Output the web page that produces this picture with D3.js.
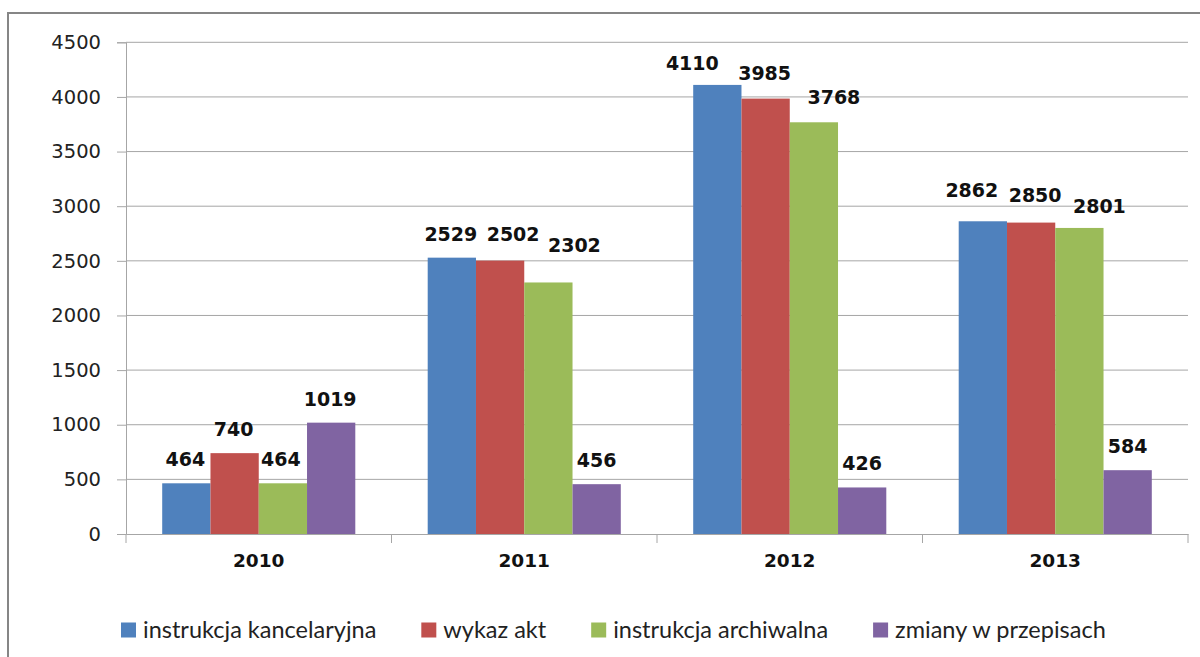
<!DOCTYPE html>
<html>
<head>
<meta charset="utf-8">
<script src="https://cdn.jsdelivr.net/npm/d3@7"></script>
<style>
  body { margin: 0; background: #fff; }
  svg { display: block; }
</style>
</head>
<body>
<div id="chart"></div>
<script>
// data
const years = ["2010", "2011", "2012", "2013"];
const seriesNames = ["instrukcja kancelaryjna", "wykaz akt", "instrukcja archiwalna", "zmiany w przepisach"];
const kancelaryjna = [464, 2529, 4110, 2862];
const wykazAkt = [740, 2502, 3985, 2850];
const archiwalna = [464, 2302, 3768, 2801];
const zmiany = [1019, 456, 426, 584];
const yTicks = [0, 500, 1000, 1500, 2000, 2500, 3000, 3500, 4000, 4500];

const colors = ["#4F81BD", "#C0504D", "#9BBB59", "#8064A2"];

const W = 1200, H = 657;
const margin = {top: 42.3, left: 126, right: 12, bottom: 123};
const width = W - margin.left - margin.right;   // 1062
const height = H - margin.top - margin.bottom;  // ~492

const svg = d3.select("#chart").append("svg")
    .attr("width", W)
    .attr("height", H);

// outer frame
svg.append("rect")
    .attr("x", 8).attr("y", 13)
    .attr("width", 1200).attr("height", 700)
    .attr("fill", "none")
    .attr("stroke", "#868686")
    .attr("stroke-width", 2);

const chart = svg.append("g")
    .attr("transform", "translate(" + margin.left + "," + margin.top + ")");

const allSeries = [kancelaryjna, wykazAkt, archiwalna, zmiany];
const data = years.map(function(y, i) {
  return {year: y, values: allSeries.map(function(s, k) { return {key: seriesNames[k], k: k, value: s[i]}; })};
});

const x0 = d3.scaleBand().domain(years).range([0, width]);
const x1 = d3.scaleBand().domain(seriesNames).range([0, x0.bandwidth()]).paddingOuter(0.75);
const y = d3.scaleLinear().domain([0, 4500]).range([height, 0]);

// grid
chart.append("g")
  .selectAll("line")
  .data(yTicks.slice(1))
  .enter().append("line")
    .attr("x1", 0).attr("x2", width)
    .attr("y1", function(d) { return y(d); })
    .attr("y2", function(d) { return y(d); })
    .attr("stroke", "#a6a6a6")
    .attr("stroke-width", 1);

// bars
const groups = chart.append("g")
  .selectAll("g")
  .data(data)
  .enter().append("g")
    .attr("transform", function(d) { return "translate(" + x0(d.year) + ",0)"; });

groups.selectAll("rect")
  .data(function(d) { return d.values; })
  .enter().append("rect")
    .attr("x", function(d) { return x1(d.key); })
    .attr("y", function(d) { return y(d.value); })
    .attr("width", x1.bandwidth())
    .attr("height", function(d) { return height - y(d.value); })
    .attr("fill", function(d) { return colors[d.k]; });

// value labels, some were dragged a bit in the original
const labelShift = [
  [[-1, 0], [-1, 0], [-2, 0], [-1, 1]],
  [[-1, 0], [13, -2], [26, -13], [0, 0]],
  [[-25, 2], [-1, -1], [20, -1], [0, 0]],
  [[-11, -7], [4, -3], [20, 2], [0, 0]]
];

groups.each(function(g, gi) {
  d3.select(this).selectAll("text")
    .data(g.values)
    .enter().append("text")
      .attr("x", function(d) { return x1(d.key) + x1.bandwidth() / 2 + labelShift[gi][d.k][0]; })
      .attr("y", function(d) { return y(d.value) - 24 + labelShift[gi][d.k][1]; })
      .attr("dy", "0.36em")
      .attr("text-anchor", "middle")
      .attr("font-family", "DejaVu Sans")
      .attr("font-weight", "bold")
      .attr("font-size", "19px")
      .attr("fill", "#111")
      .text(function(d) { return d.value; });
});

// y axis
const yAxis = chart.append("g")
    .call(d3.axisLeft(y).tickValues(yTicks).tickFormat(d3.format("d")).tickSize(9).tickPadding(16));
yAxis.select(".domain").attr("stroke", "#a6a6a6");
yAxis.selectAll(".tick line").attr("stroke", "#a6a6a6");
yAxis.selectAll(".tick text")
    .attr("font-family", "DejaVu Sans")
    .attr("font-size", "19.5px")
    .attr("fill", "#222");

// x axis
const xAxis = chart.append("g")
    .attr("transform", "translate(0," + height + ")")
    .call(d3.axisBottom(x0).tickSize(0).tickPadding(20));
xAxis.select(".domain").attr("stroke", "#a6a6a6");
xAxis.selectAll(".tick text")
    .attr("font-family", "DejaVu Sans")
    .attr("font-weight", "bold")
    .attr("font-size", "18.5px")
    .attr("fill", "#111");

xAxis.append("g")
  .selectAll("line")
  .data(years.concat(["end"]))
  .enter().append("line")
    .attr("x1", function(d, i) { return i * x0.step(); })
    .attr("x2", function(d, i) { return i * x0.step(); })
    .attr("y1", 0).attr("y2", 9)
    .attr("stroke", "#a6a6a6");

// legend
const legend = svg.append("g")
    .attr("transform", "translate(121,630)");

let lx = 0;
seriesNames.forEach(function(name, i) {
  const item = legend.append("g").attr("transform", "translate(" + lx + ",0)");
  item.append("rect")
      .attr("x", 0).attr("y", -7.5)
      .attr("width", 15).attr("height", 15)
      .attr("fill", colors[i]);
  const t = item.append("text")
      .attr("x", 22)
      .attr("dy", "0.35em")
      .attr("font-family", "Lato")
      .attr("font-size", "23.5px")
      .attr("fill", "#222")
      .text(name);
  lx += 22 + t.node().getComputedTextLength() + 45;
});
</script>
</body>
</html>
